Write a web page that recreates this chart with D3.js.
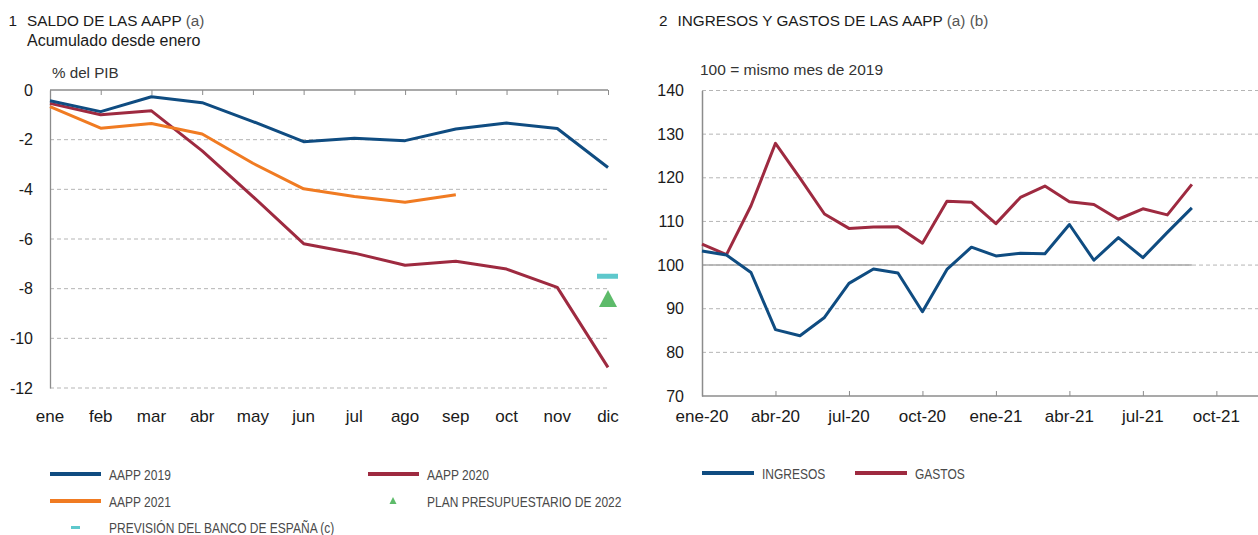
<!DOCTYPE html>
<html>
<head>
<meta charset="utf-8">
<script src="https://cdn.jsdelivr.net/npm/d3@7"></script>
<style>
  html, body { margin: 0; padding: 0; background: #fff; }
  svg { display: block; }
  text { font-family: "Liberation Sans", Arial, Helvetica, sans-serif; }
</style>
</head>
<body>
<svg id="chart" width="1258" height="535"></svg>
<script>
// ---- Panel 1: saldo acumulado desde enero (% del PIB)
const months = ["ene","feb","mar","abr","may","jun","jul","ago","sep","oct","nov","dic"];
const saldo2019 = [-0.43,-0.87,-0.27,-0.51,-1.27,-2.08,-1.94,-2.04,-1.57,-1.33,-1.55,-3.12];
const saldo2020 = [-0.54,-1.00,-0.84,-2.45,-4.29,-6.19,-6.57,-7.06,-6.90,-7.21,-7.95,-11.17];
const saldo2021 = [-0.67,-1.54,-1.35,-1.77,-2.95,-3.98,-4.29,-4.52,-4.22];
const planPresupuestario2022 = -8.4;
const previsionBdE = -7.5;
const saldoTicks = [0,-2,-4,-6,-8,-10,-12];

// ---- Panel 2: ingresos y gastos (100 = mismo mes de 2019)
const monthLabels = ["ene-20","feb-20","mar-20","abr-20","may-20","jun-20","jul-20","ago-20","sep-20","oct-20","nov-20","dic-20",
                     "ene-21","feb-21","mar-21","abr-21","may-21","jun-21","jul-21","ago-21","sep-21","oct-21"];
const ingresos = [103.2,102.3,98.3,85.2,83.8,88.0,95.8,99.1,98.2,89.3,99.0,104.1,102.1,102.7,102.6,109.3,101.1,106.3,101.7,107.5,113.1];
const gastos   = [104.8,102.4,113.6,127.9,119.9,111.7,108.4,108.7,108.8,105.0,114.6,114.4,109.5,115.5,118.1,114.5,113.9,110.5,112.9,111.5,118.5];
const indiceTicks = [70,80,90,100,110,120,130,140];
const quarterTicks = ["ene-20","abr-20","jul-20","oct-20","ene-21","abr-21","jul-21","oct-21"];

const C = {
  blue: "#0f4c81",
  red: "#9e2a40",
  orange: "#f07b22",
  green: "#5dbb6a",
  cyan: "#5ec8cc",
  grid: "#b5b5b5",
  axis: "#8c8c8c",
  text: "#1a1a1a",
  legend: "#4a4a4a"
};

const svg = d3.select("#chart");

// condensed legend label: regular face squeezed horizontally
function legendLabel(g, x, y, label) {
  g.append("text")
    .attr("transform", `translate(${x},${y}) scale(0.8,1)`)
    .attr("font-size", 15).attr("fill", C.legend)
    .text(label);
}

function title(g, x, num, main, note) {
  g.append("text").attr("x", x).attr("y", 25.5).attr("font-size", 15.3).attr("fill", C.text).text(num);
  const t = g.append("text").attr("x", x + 18.5).attr("y", 25.5).attr("font-size", 15.3).attr("fill", C.text);
  t.append("tspan").text(main + " ");
  t.append("tspan").attr("fill", "#555").text(note);
}

// ---------------- Panel 1 ----------------
const x1 = d3.scalePoint().domain(months).range([50, 608]);
const y1 = d3.scaleLinear().domain([-12, 0]).range([388, 90]);
const g1 = svg.append("g");

title(g1, 8.5, "1", "SALDO DE LAS AAPP", "(a)");
g1.append("text").attr("x", 27).attr("y", 45.5).attr("font-size", 16).attr("fill", C.text).text("Acumulado desde enero");
g1.append("text").attr("x", 52).attr("y", 77.5).attr("font-size", 15.2).attr("fill", "#333").text("% del PIB");

// dashed gridlines
g1.append("g").selectAll("line").data(saldoTicks.filter(d => d !== 0)).join("line")
  .attr("x1", 50).attr("x2", 608)
  .attr("y1", d => y1(d)).attr("y2", d => y1(d))
  .attr("stroke", C.grid).attr("stroke-width", 1).attr("stroke-dasharray", "4,3");

// zero line with month ticks hanging below
const ax1 = g1.append("g").attr("transform", `translate(0,${y1(0)})`)
  .call(d3.axisBottom(x1).tickSize(5).tickFormat(""));
ax1.select(".domain").attr("stroke", C.axis).attr("stroke-width", 1.3).attr("d", `M50,0H608`);
ax1.selectAll(".tick line").attr("stroke", C.axis);

// left axis
const ay1 = g1.append("g").attr("transform", "translate(50,0)")
  .call(d3.axisLeft(y1).tickValues(saldoTicks).tickSize(0).tickPadding(17).tickFormat(d => String(d)));
ay1.select(".domain").attr("stroke", C.axis).attr("stroke-width", 1.3);
ay1.selectAll("text").attr("font-size", 16).attr("fill", C.text)
  .attr("font-family", "Liberation Sans, Arial, sans-serif");

// month labels
g1.append("g").selectAll("text").data(months).join("text")
  .attr("x", d => x1(d)).attr("y", 421.5).attr("text-anchor", "middle")
  .attr("font-size", 17).attr("fill", C.text).text(d => d);

const line1 = d3.line().x((d, i) => x1(months[i])).y(d => y1(d));
[[saldo2020, C.red], [saldo2021, C.orange], [saldo2019, C.blue]].forEach(([s, c]) => {
  g1.append("path").datum(s).attr("d", line1)
    .attr("fill", "none").attr("stroke", c).attr("stroke-width", 3).attr("stroke-linejoin", "round");
});

// Banco de España forecast (dash) and budget plan (triangle) for december
g1.append("rect")
  .attr("x", x1("dic") - 11).attr("y", y1(previsionBdE) - 2.5)
  .attr("width", 21).attr("height", 5).attr("fill", C.cyan);
g1.append("path")
  .attr("transform", `translate(${x1("dic")},${y1(planPresupuestario2022)})`)
  .attr("d", "M0,-8.5L9,8.5L-9,8.5Z").attr("fill", C.green);

// legend panel 1
const leg1 = g1.append("g");
const leg1Items = [
  { x: 50, y: 474, type: "line", color: C.blue, label: "AAPP 2019" },
  { x: 368, y: 474, type: "line", color: C.red, label: "AAPP 2020" },
  { x: 50, y: 501, type: "line", color: C.orange, label: "AAPP 2021" },
  { x: 368, y: 501, type: "tri", color: C.green, label: "PLAN PRESUPUESTARIO DE 2022" },
  { x: 50, y: 527.5, type: "dash", color: C.cyan, label: "PREVISIÓN DEL BANCO DE ESPAÑA (c)" }
];
leg1Items.forEach(it => {
  if (it.type === "line") {
    leg1.append("rect").attr("x", it.x).attr("y", it.y - 2).attr("width", 51).attr("height", 4).attr("fill", it.color);
  } else if (it.type === "tri") {
    leg1.append("path").attr("transform", `translate(${it.x + 25},${it.y})`)
      .attr("d", "M0,-4L3.5,3L-3.5,3Z").attr("fill", it.color);
  } else {
    leg1.append("rect").attr("x", it.x + 21).attr("y", it.y - 1.5).attr("width", 9).attr("height", 3).attr("fill", it.color);
  }
  legendLabel(leg1, it.x + 59, it.y + 5.5, it.label);
});

// ---------------- Panel 2 ----------------
const x2 = d3.scaleLinear().domain([0, 22.7]).range([702, 1258]);
const y2 = d3.scaleLinear().domain([70, 140]).range([396, 90.5]);
const g2 = svg.append("g");

title(g2, 659, "2", "INGRESOS Y GASTOS DE LAS AAPP", "(a) (b)");
g2.append("text").attr("x", 700).attr("y", 75).attr("font-size", 15.5).attr("fill", "#333").text("100 = mismo mes de 2019");

g2.append("g").selectAll("line").data(indiceTicks.filter(d => d !== 70)).join("line")
  .attr("x1", 702).attr("x2", 1258)
  .attr("y1", d => y2(d)).attr("y2", d => y2(d))
  .attr("stroke", C.grid).attr("stroke-width", 1).attr("stroke-dasharray", "4,3");

// solid reference at 100 across the data months
g2.append("line")
  .attr("x1", x2(0)).attr("x2", x2(ingresos.length - 1))
  .attr("y1", y2(100)).attr("y2", y2(100))
  .attr("stroke", "#a8a8a8").attr("stroke-width", 1.5);

const ax2 = g2.append("g").attr("transform", `translate(0,${y2(70)})`)
  .call(d3.axisTop(x2).tickValues(quarterTicks.map(m => monthLabels.indexOf(m))).tickSize(5).tickFormat(""));
ax2.select(".domain").attr("stroke", C.axis).attr("stroke-width", 1.5).attr("d", "M702,0H1258");
ax2.selectAll(".tick line").attr("stroke", C.axis);

const ay2 = g2.append("g").attr("transform", "translate(702,0)")
  .call(d3.axisLeft(y2).tickValues(indiceTicks).tickSize(0).tickPadding(18).tickFormat(d => String(d)));
ay2.select(".domain").attr("stroke", C.axis).attr("stroke-width", 1.5);
ay2.selectAll("text").attr("font-size", 16).attr("fill", C.text)
  .attr("font-family", "Liberation Sans, Arial, sans-serif");

g2.append("g").selectAll("text").data(quarterTicks).join("text")
  .attr("x", d => x2(monthLabels.indexOf(d))).attr("y", 421.5).attr("text-anchor", "middle")
  .attr("font-size", 17).attr("fill", C.text).text(d => d);

const line2 = d3.line().x((d, i) => x2(i)).y(d => y2(d));
[[gastos, C.red], [ingresos, C.blue]].forEach(([s, c]) => {
  g2.append("path").datum(s).attr("d", line2)
    .attr("fill", "none").attr("stroke", c).attr("stroke-width", 3).attr("stroke-linejoin", "round");
});

const leg2 = g2.append("g");
[{ x: 702, label: "INGRESOS", color: C.blue }, { x: 855, label: "GASTOS", color: C.red }].forEach(it => {
  leg2.append("rect").attr("x", it.x).attr("y", 471).attr("width", 52).attr("height", 4).attr("fill", it.color);
  legendLabel(leg2, it.x + 60, 478.5, it.label);
});
</script>
</body>
</html>
